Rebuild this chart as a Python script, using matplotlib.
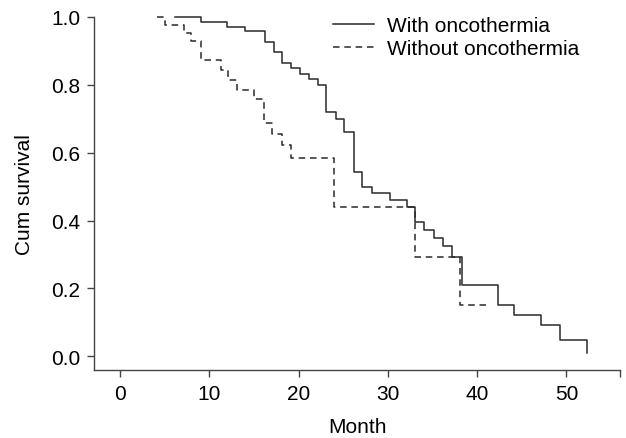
import matplotlib
matplotlib.use('Agg')
import matplotlib.pyplot as plt

plt.rcParams['font.family'] = ['Liberation Sans', 'DejaVu Sans']

# Kaplan-Meier steps (month, cumulative survival after the step)
with_months = [6.2, 9.05, 12.0, 14.05, 16.2, 17.2, 18.15, 19.15, 20.15, 21.2, 22.2,
               23.1, 24.2, 25.1, 26.2, 27.1, 28.2, 30.2, 32.2, 33.1, 34.1, 35.2,
               36.2, 37.2, 38.3, 42.3, 44.1, 47.1, 49.3, 52.3]
with_surv = [1.0, 0.983, 0.970, 0.957, 0.926, 0.896, 0.864, 0.849, 0.831, 0.816, 0.800,
             0.720, 0.699, 0.662, 0.542, 0.500, 0.481, 0.461, 0.440, 0.396, 0.373, 0.349,
             0.325, 0.294, 0.210, 0.152, 0.121, 0.093, 0.048, 0.01]

without_months = [4.2, 5.1, 7.2, 8.0, 9.1, 11.3, 12.1, 13.1, 15.0, 16.1, 17.0,
                  18.1, 19.2, 24.0, 33.0, 38.1, 41.2]
without_surv = [1.0, 0.977, 0.951, 0.928, 0.873, 0.844, 0.814, 0.784, 0.757, 0.686, 0.656,
                0.623, 0.584, 0.439, 0.294, 0.152, 0.152]

x_ticks = [0, 10, 20, 30, 40, 50]
y_ticks = [0.0, 0.2, 0.4, 0.6, 0.8, 1.0]
x_end = 56.0

line_color = '#2a2a2a'
spine_color = '#444444'

fig = plt.figure(figsize=(6.26, 4.39), dpi=100)
ax = fig.add_axes([94 / 626, 1 - 371 / 439, (620 - 94) / 626, (371 - 17.7) / 439])

ax.step(with_months, with_surv, where='post', color=line_color, lw=1.1,
        label='With oncothermia', clip_on=False)
ax.step(without_months, without_surv, where='post', color=line_color, lw=1.1,
        linestyle=(0, (4.3, 3.1)), label='Without oncothermia', clip_on=False)

ax.set_xlim(-2.9, x_end)
ax.set_ylim(-0.04, 1.0)

ax.set_xticks(x_ticks + [x_end])
ax.set_xticklabels([str(t) for t in x_ticks] + [''])
ax.set_yticks(y_ticks)
ax.set_yticklabels(['%.1f' % t for t in y_ticks])

for side in ['top', 'right']:
    ax.spines[side].set_visible(False)
for side in ['left', 'bottom']:
    ax.spines[side].set_color(spine_color)
    ax.spines[side].set_linewidth(1.0)

ax.tick_params(direction='out', length=5, width=1.0, color=spine_color,
               labelsize=15, pad=5)

ax.set_xlabel('Month', fontsize=15, labelpad=10)
ax.set_ylabel('Cum survival', fontsize=15, labelpad=12)

ax.legend(loc='upper left', bbox_to_anchor=(333 / 626, 1 - 17 / 439),
          bbox_transform=fig.transFigure, frameon=False, borderpad=0,
          borderaxespad=0, handlelength=1.95, handletextpad=0.65,
          labelspacing=0.2, fontsize=15)

plt.savefig('out.png', dpi=100)
